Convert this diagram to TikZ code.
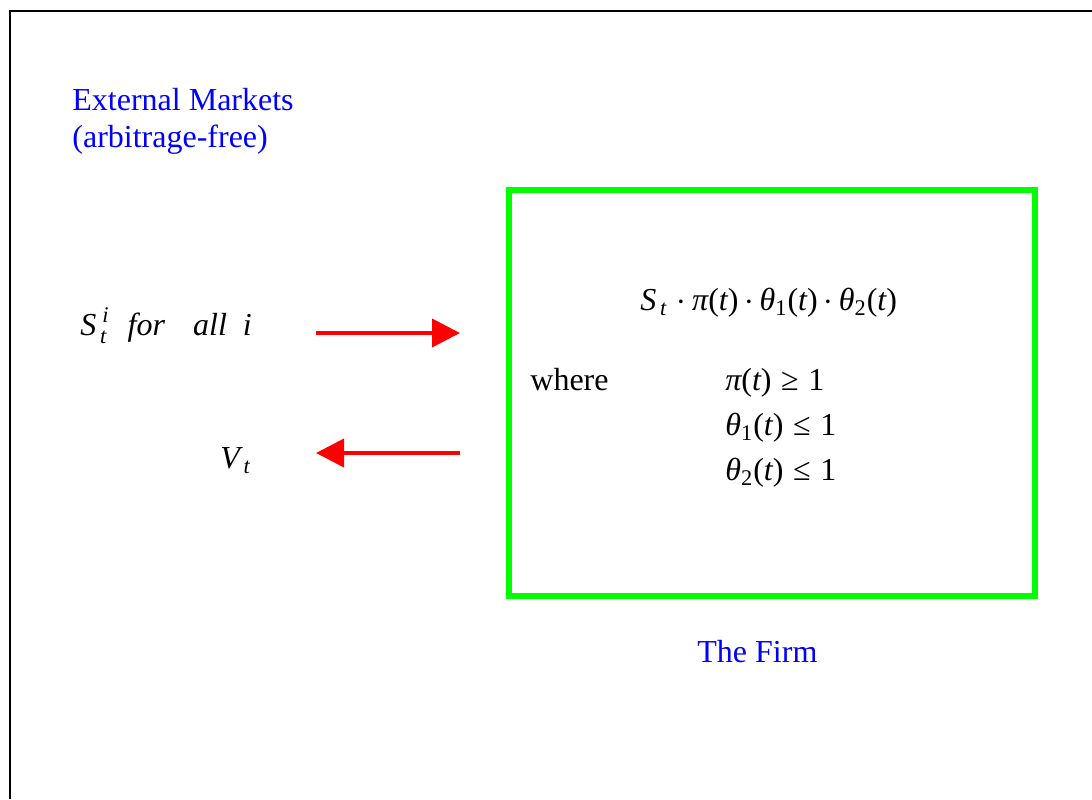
\documentclass[tikz,border=0pt]{standalone}
\usepackage{amsmath,amssymb}
\usepackage{fontspec}
\setmainfont{Liberation Serif}
\usepackage{tikz}
\usetikzlibrary{arrows.meta,positioning}
\definecolor{FirmGreen}{RGB}{0,255,0}
\definecolor{MktBlue}{RGB}{0,0,255}
\definecolor{FlowRed}{RGB}{255,0,0}
\newcommand{\mi}[1]{\text{\itshape #1}}
\newcommand{\mup}[1]{\text{\upshape #1}}
\newcommand{\ofT}{\mup{(}\mi{t}\mup{)}}

\begin{document}
\begin{tikzpicture}[
      x=0.5pt,y=-0.5pt,
      >={Triangle[length=14pt,width=14pt]},
      frame/.style={line width=1pt,draw=black},
      firmbox/.style={line width=2.8pt,draw=FirmGreen,outer sep=0pt,inner sep=0pt},
      flow/.style={->,line width=2pt,draw=FlowRed},
      label/.style={anchor=base west,inner sep=0pt,font=\fontsize{16}{18.5}\selectfont},
      blue label/.style={label,text=MktBlue,align=left}
    ]
    \useasboundingbox (0,0) rectangle (1092,799);
    \draw[frame] (9.5,799) -- (9.5,10.5) -- (1092,10.5);

    \node[blue label] (markets) at (72,147)
      {External Markets\\(arbitrage-free)};
    \node[firmbox,minimum width=263pt,minimum height=203pt,anchor=north west] (firm) at (509,190) {};
    \node[blue label] (firmname) at (697,662) {The Firm};

    % market side
    \node[label] (prices) at (80,335)
      {$\mi{S}_{\,\mi{t}}^{\;\mi{i}}$\hspace{9pt}\textit{for}\hspace{14pt}\textit{all}\hspace{8pt}\textit{i}};
    \node[label] (value) at (220,468) {$\mi{V}_{\,\mi{t}}$};

    \coordinate (pricesTail) at (316,333);
    \coordinate (pricesHead) at (460,333);
    \coordinate (valueTail) at (460,453);
    \coordinate (valueHead) at (316,453);
    \draw[flow] (pricesTail) -- (pricesHead);
    \draw[flow] (valueTail) -- (valueHead);

    % inside the firm
    \node[label] (product) at (640,310)
      {$\mi{S}_{\,\mi{t}}\;{\cdot}\,\mi{π}\ofT\,{\cdot}\,\mi{θ}_{\mup{1}}\ofT\,{\cdot}\,\mi{θ}_{\mup{2}}\ofT$};
    \node[label] (where) at (530,390) {where};
    \node[label] (pibound) at (725,390) {$\mi{π}\ofT\;\mup{≥}\;\mup{1}$};
    \node[label] (thetaone) at (725,435) {$\mi{θ}_{\mup{1}}\ofT\;\mup{≤}\;\mup{1}$};
    \node[label] (thetatwo) at (725,480) {$\mi{θ}_{\mup{2}}\ofT\;\mup{≤}\;\mup{1}$};
  \end{tikzpicture}
\end{document}
